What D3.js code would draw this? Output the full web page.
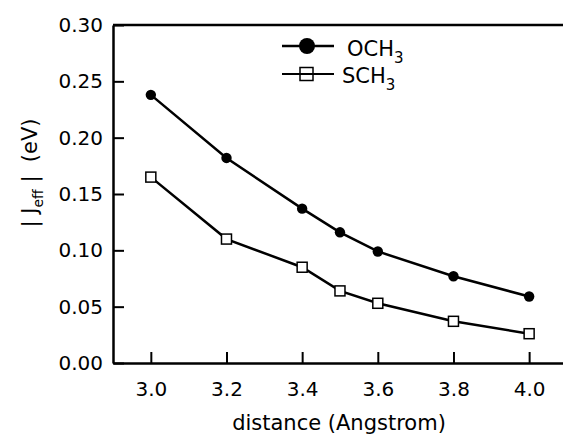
<!DOCTYPE html>
<html>
<head>
<meta charset="utf-8">
<script src="https://cdn.jsdelivr.net/npm/d3@7"></script>
<style>
  html, body { margin: 0; padding: 0; background: #fff; }
  svg { display: block; }
  text { font-family: "DejaVu Sans", sans-serif; fill: #000; }
</style>
</head>
<body>
<svg id="chart" width="563" height="444"></svg>
<script>
const distance = [3.0, 3.2, 3.4, 3.5, 3.6, 3.8, 4.0];
const och3 = [0.238, 0.182, 0.137, 0.116, 0.099, 0.077, 0.059];
const sch3 = [0.165, 0.110, 0.085, 0.064, 0.053, 0.037, 0.026];
const xTicks = [3.0, 3.2, 3.4, 3.6, 3.8, 4.0];
const yTicks = [0.00, 0.05, 0.10, 0.15, 0.20, 0.25, 0.30];
const seriesNames = ["OCH", "SCH"];

const svg = d3.select("#chart");
const mLeft = 113, mTop = 25, mBottom = 363;
const x = d3.scaleLinear().domain([2.9, 4.1]).range([mLeft, mLeft + 1.2 * 378.3]);
const y = d3.scaleLinear().domain([0, 0.30]).range([mBottom, mTop]);

// top border
svg.append("line").attr("x1", mLeft).attr("x2", 563).attr("y1", mTop).attr("y2", mTop)
  .attr("stroke", "#000").attr("stroke-width", 2.5);

// axes
const yAxis = svg.append("g").attr("transform", `translate(${mLeft},0)`)
  .call(d3.axisLeft(y).tickValues(yTicks).tickFormat(d3.format(".2f")).tickSizeInner(-11).tickSizeOuter(0).tickPadding(10));
const xAxis = svg.append("g").attr("transform", `translate(0,${mBottom})`)
  .call(d3.axisBottom(x).tickValues(xTicks).tickFormat(d3.format(".1f")).tickSizeInner(-11).tickSizeOuter(0).tickPadding(19));
[yAxis, xAxis].forEach(g => {
  g.select(".domain").attr("stroke", "#000").attr("stroke-width", 2.5);
  g.selectAll(".tick line").attr("stroke", "#000").attr("stroke-width", 2);
  g.selectAll(".tick text").style("font-family", "DejaVu Sans, sans-serif").style("font-size", "20px").attr("fill", "#000");
});

// lines
const line = d3.line().x((d, i) => x(distance[i])).y(d => y(d));
svg.append("path").datum(och3).attr("d", line).attr("fill", "none").attr("stroke", "#000").attr("stroke-width", 2.5);
svg.append("path").datum(sch3).attr("d", line).attr("fill", "none").attr("stroke", "#000").attr("stroke-width", 2.5);

// markers
svg.selectAll("circle.och").data(och3).enter().append("circle")
  .attr("cx", (d, i) => x(distance[i])).attr("cy", d => y(d)).attr("r", 5.2).attr("fill", "#000");
svg.selectAll("rect.sch").data(sch3).enter().append("rect")
  .attr("x", (d, i) => x(distance[i]) - 5).attr("y", d => y(d) - 5)
  .attr("width", 10).attr("height", 10).attr("fill", "#fff").attr("stroke", "#000").attr("stroke-width", 1.5);

// legend
const lg = svg.append("g");
lg.append("line").attr("x1", 282).attr("x2", 334).attr("y1", 46).attr("y2", 46).attr("stroke", "#000").attr("stroke-width", 2.5);
lg.append("circle").attr("cx", 307).attr("cy", 46).attr("r", 8).attr("fill", "#000");
lg.append("line").attr("x1", 282).attr("x2", 334).attr("y1", 74).attr("y2", 74).attr("stroke", "#000").attr("stroke-width", 1.8);
lg.append("rect").attr("x", 300).attr("y", 67.5).attr("width", 13).attr("height", 13).attr("fill", "none").attr("stroke", "#000").attr("stroke-width", 1.5);
const t1 = lg.append("text").attr("x", 347).attr("y", 56).style("font-size", "21px");
t1.append("tspan").text(seriesNames[0]);
t1.append("tspan").attr("dy", 7).style("font-size", "15px").text("3");
const t2 = lg.append("text").attr("x", 342).attr("y", 83).style("font-size", "21px");
t2.append("tspan").text(seriesNames[1]);
t2.append("tspan").attr("dy", 7).style("font-size", "15px").text("3");

// axis titles
svg.append("text").attr("x", 339).attr("y", 430).attr("text-anchor", "middle").style("font-size", "21px").text("distance (Angstrom)");
const yt = svg.append("text").attr("transform", "translate(37,173) rotate(-90)").attr("text-anchor", "middle").style("font-size", "21px").attr("xml:space", "preserve");
yt.append("tspan").text("| J");
yt.append("tspan").attr("dy", 6).style("font-size", "14px").text("eff");
yt.append("tspan").attr("dy", -6).text(" |  (eV)");
</script>
</body>
</html>
